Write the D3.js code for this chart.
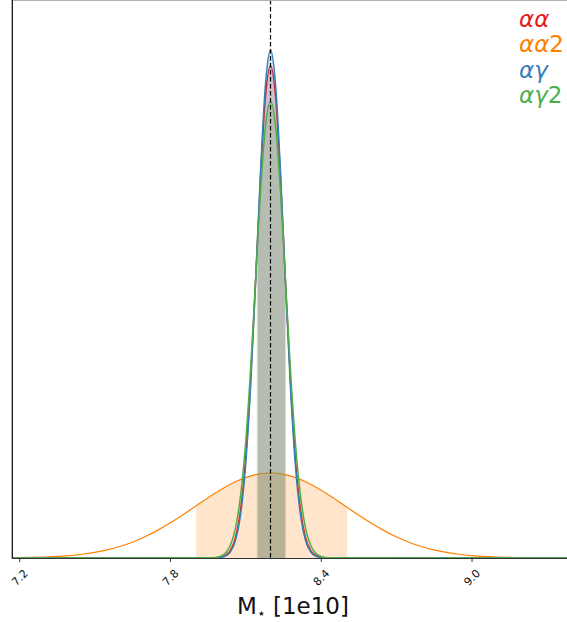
<!DOCTYPE html>
<html>
<head>
<meta charset="utf-8">
<script src="https://cdn.jsdelivr.net/npm/d3@7"></script>
<style>
	body { margin: 0; background: #fff; }
	svg { display: block; }
</style>
</head>
<body>
<div id="chart"></div>
<script>

// grid for the three narrow posteriors (x in 1e10)
const narrowX = [7.10, 7.96, 7.98, 8.00, 8.02, 8.04, 8.06, 8.08, 8.10, 8.12, 8.14, 8.16, 8.18, 8.20,
	8.22, 8.24, 8.26, 8.28, 8.30, 8.32, 8.34, 8.36, 8.38, 8.40, 8.42, 8.44, 9.45];

const redY = [0, 0, 0.003, 0.011, 0.037, 0.111, 0.295, 0.69, 1.41, 2.54, 4.01, 5.55, 6.75, 7.20,
	6.75, 5.55, 4.01, 2.54, 1.41, 0.69, 0.295, 0.111, 0.037, 0.011, 0.003, 0, 0];

const blueY = [0, 0, 0.002, 0.007, 0.027, 0.088, 0.248, 0.61, 1.31, 2.45, 3.98, 5.63, 6.93, 7.43,
	6.93, 5.63, 3.98, 2.45, 1.31, 0.61, 0.248, 0.088, 0.027, 0.007, 0.002, 0, 0];

const greenY = [0, 0.002, 0.007, 0.024, 0.071, 0.184, 0.427, 0.89, 1.64, 2.72, 4.03, 5.34, 6.32, 6.68,
	6.32, 5.34, 4.03, 2.72, 1.64, 0.89, 0.427, 0.184, 0.071, 0.024, 0.007, 0.002, 0];

// the broad one
const orangeX = [7.10, 7.15, 7.20, 7.25, 7.30, 7.35, 7.40, 7.45, 7.50, 7.55, 7.60, 7.65, 7.70, 7.75,
	7.80, 7.85, 7.90, 7.95, 8.00, 8.05, 8.10, 8.15, 8.20, 8.25, 8.30, 8.35, 8.40, 8.45, 8.50, 8.55,
	8.60, 8.65, 8.70, 8.75, 8.80, 8.85, 8.90, 8.95, 9.00, 9.05, 9.10, 9.15, 9.20, 9.25, 9.30, 9.35, 9.40];

const orangeY = [0.0015, 0.0027, 0.0048, 0.0083, 0.0138, 0.0225, 0.0355, 0.0546, 0.082, 0.119, 0.168, 0.231, 0.310, 0.404,
	0.511, 0.629, 0.754, 0.878, 0.995, 1.097, 1.176, 1.226, 1.243, 1.226, 1.176, 1.097, 0.995, 0.878, 0.754, 0.629,
	0.511, 0.404, 0.310, 0.231, 0.168, 0.119, 0.082, 0.0546, 0.0355, 0.0225, 0.0138, 0.0083, 0.0048, 0.0027, 0.0015, 0.0008, 0.0004];

const seriesNames = ["αα", "αα2", "αγ", "αγ2"];
const seriesColors = ["#e41a1c", "#ff7f00", "#377eb8", "#4daf4a"];
// 16th / 84th percentiles
const bandLow = [8.148, 7.904, 8.150, 8.145];
const bandHigh = [8.259, 8.505, 8.257, 8.262];

const truthValue = 8.2;
const xTicks = [7.2, 7.8, 8.4, 9.0];
const xTickLabels = ["7.2", "7.8", "8.4", "9.0"];

const series = [
	{ x: narrowX, y: redY },
	{ x: orangeX, y: orangeY },
	{ x: narrowX, y: blueY },
	{ x: narrowX, y: greenY }
];

drawPanel();

function drawPanel()
{
	let width = 567,
		height = 622;

	let left = 12.3, right = 574, top = 0, bottom = 558;

	let svg = d3.select("#chart")
		.append("svg")
			.attr("width", width)
			.attr("height", height)
			.style("font-family", "DejaVu Sans");

	let x = d3.scaleLinear()
		.domain([7.1725, 9.4077])
		.range([left, right]);

	let y = d3.scaleLinear()
		.domain([0, 8.16])
		.range([bottom, top]);

	let defs = svg.append("defs");

	defs.append("clipPath")
		.attr("id", "plot-clip")
		.append("rect")
			.attr("x", left)
			.attr("y", top)
			.attr("width", right - left)
			.attr("height", bottom - top);

	series.forEach(function(s, i) {
		defs.append("clipPath")
			.attr("id", "band-" + i)
			.append("rect")
				.attr("x", x(bandLow[i]))
				.attr("y", top)
				.attr("width", x(bandHigh[i]) - x(bandLow[i]))
				.attr("height", bottom - top);
	});

	let plot = svg.append("g")
		.attr("clip-path", "url(#plot-clip)");

	let line = d3.line()
		.x(function(d) { return x(d[0]); })
		.y(function(d) { return y(d[1]); })
		.curve(d3.curveMonotoneX);

	let area = d3.area()
		.x(function(d) { return x(d[0]); })
		.y0(y(0))
		.y1(function(d) { return y(d[1]); })
		.curve(d3.curveMonotoneX);

	series.forEach(function(s, i) {
		let pts = s.x.map(function(v, k) { return [v, s.y[k]]; });

		plot.append("g")
			.attr("clip-path", "url(#band-" + i + ")")
			.append("path")
				.attr("d", area(pts))
				.attr("fill", seriesColors[i])
				.attr("fill-opacity", 0.2);

		plot.append("path")
			.attr("d", line(pts))
			.attr("fill", "none")
			.attr("stroke", seriesColors[i])
			.attr("stroke-width", i == 1 ? 1.2 : 1.5);
	});

	// truth
	plot.append("line")
		.attr("x1", x(truthValue))
		.attr("x2", x(truthValue))
		.attr("y1", top)
		.attr("y2", bottom)
		.attr("stroke", "black")
		.attr("stroke-width", 1.2)
		.attr("stroke-dasharray", "4.5,2.5");

	// spines
	svg.append("line")
		.attr("x1", left).attr("x2", width)
		.attr("y1", 0.5).attr("y2", 0.5)
		.attr("stroke", "#b0b0b0")
		.attr("stroke-width", 1);

	svg.append("line")
		.attr("x1", left).attr("x2", left)
		.attr("y1", 0).attr("y2", bottom + 0.5)
		.attr("stroke", "black")
		.attr("stroke-width", 1.2);

	svg.append("line")
		.attr("x1", left).attr("x2", width)
		.attr("y1", bottom + 0.5).attr("y2", bottom + 0.5)
		.attr("stroke", "#333")
		.attr("stroke-width", 1);

	let axis = svg.append("g")
		.attr("transform", "translate(0," + (bottom + 0.5) + ")")
		.call(d3.axisBottom(x)
			.tickValues(xTicks)
			.tickFormat(function(d, k) { return xTickLabels[k]; })
			.tickSize(3.5));

	axis.select(".domain").remove();
	axis.selectAll(".tick line")
		.attr("stroke", "#222")
		.attr("stroke-width", 0.9);
	axis.selectAll(".tick text")
		.attr("y", 0)
		.attr("dy", "0.35em")
		.attr("text-anchor", "middle")
		.attr("transform", "translate(0,19) rotate(-45)")
		.attr("fill", "#111")
		.style("font-size", "11px")
		.style("font-family", "DejaVu Sans");

	// x label: M with subscript star
	let xl = svg.append("text")
		.attr("x", 293)
		.attr("y", 614)
		.attr("text-anchor", "middle")
		.attr("fill", "#111")
		.style("font-size", "23px");
	xl.append("tspan").text("M");
	xl.append("tspan")
		.attr("dy", 4)
		.style("font-size", "14px")
		.text("\u22C6");
	xl.append("tspan")
		.attr("dy", -4)
		.text(" [1e10]");

	// legend: coloured text only
	let legend = svg.append("g");
	seriesNames.forEach(function(name, i) {
		let t = legend.append("text")
			.attr("x", 519)
			.attr("y", 27 + i * 25.3)
			.attr("fill", seriesColors[i])
			.style("font-size", "23px");
		let greek = name.replace(/[0-9]/g, "");
		let digits = name.replace(/[^0-9]/g, "");
		t.append("tspan")
			.style("font-style", "italic")
			.text(greek);
		if (digits)
			t.append("tspan").text(digits);
	});
}

</script>
</body>
</html>
